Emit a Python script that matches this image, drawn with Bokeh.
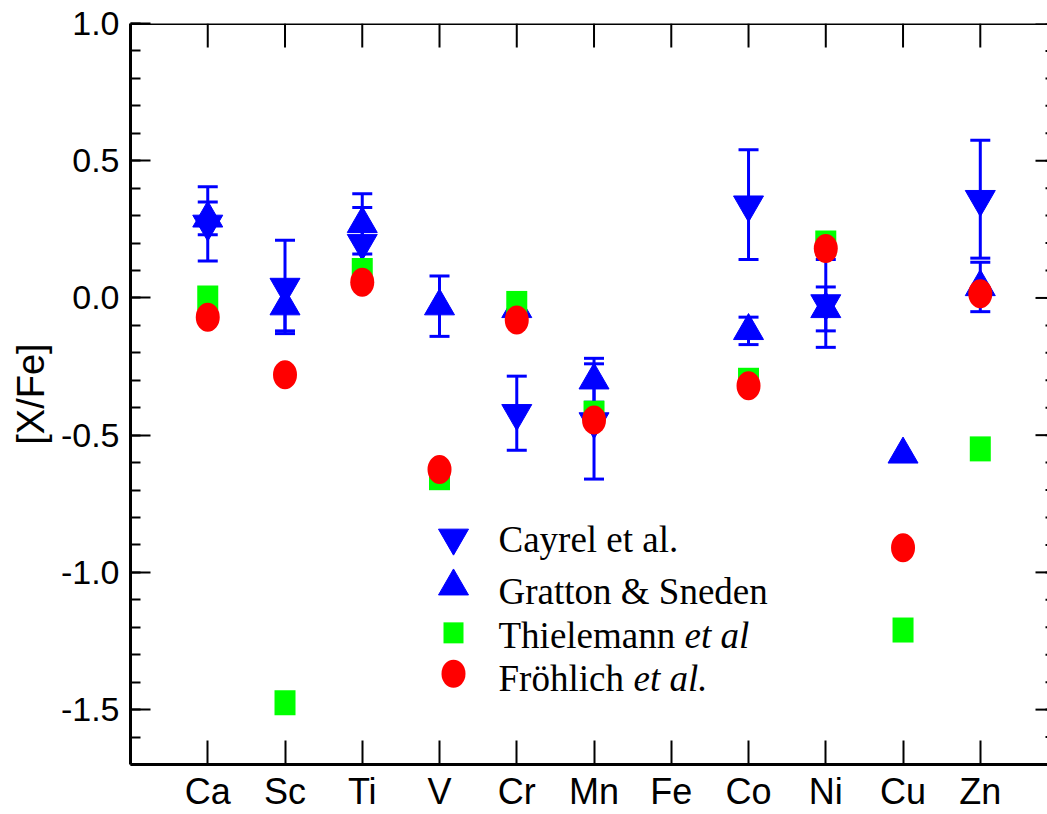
import numpy as np
from bokeh.plotting import figure
from bokeh.models import (Range1d, FixedTicker, ColumnDataSource, Span,
                          Whisker, TeeHead, Label, PrintfTickFormatter)
from bokeh.embed import file_html
from bokeh.resources import INLINE

# ---- data ---------------------------------------------------------------
elements = ["Ca", "Sc", "Ti", "V", "Cr", "Mn", "Fe", "Co", "Ni", "Cu", "Zn"]

cayrel_el = ["Ca", "Sc", "Ti", "Cr", "Mn", "Co", "Ni", "Zn"]
cayrel_val = [0.27, 0.04, 0.20, -0.42, -0.45, 0.34, -0.02, 0.36]
cayrel_err = [0.135, 0.17, 0.13, 0.135, 0.21, 0.20, 0.16, 0.215]

gratton_el = ["Ca", "Sc", "Ti", "V", "Cr", "Mn", "Co", "Ni", "Cu", "Zn"]
gratton_val = [0.29, -0.03, 0.27, -0.03, -0.04, -0.30, -0.12, -0.04, -0.57, 0.04]
gratton_err = [0.06, 0.09, 0.11, 0.11, 0.0, 0.08, 0.05, 0.08, 0.0, 0.09]

thiel_el = ["Ca", "Sc", "Ti", "V", "Cr", "Mn", "Co", "Ni", "Cu", "Zn"]
thiel_val = [0.0, -1.475, 0.10, -0.655, -0.02, -0.42, -0.30, 0.20, -1.21, -0.55]

froh_el = ["Ca", "Sc", "Ti", "V", "Cr", "Mn", "Co", "Ni", "Cu", "Zn"]
froh_val = [-0.07, -0.28, 0.057, -0.625, -0.08, -0.445, -0.32, 0.18, -0.91, 0.015]

y_major = [-1.5, -1.0, -0.5, 0.0, 0.5, 1.0]
y_minor = [round(v, 1) for v in np.arange(-1.7, 1.001, 0.1)]

BLUE, GREEN, RED = "#0000ff", "#00ff00", "#ff0000"
SANS = "Liberation Sans"
SERIF = "Liberation Serif"

pos = {name: i + 1 for i, name in enumerate(elements)}

# ---- figure ---------------------------------------------------------------
X0, X1 = 0.0, 11.87
Y0, Y1 = -1.7, 1.0
FRAME_W, FRAME_H = 917.0, 743.0
PX_X = (X1 - X0) / FRAME_W      # data units per screen pixel
PX_Y = (Y1 - Y0) / FRAME_H

p = figure(width=1047, height=814, x_range=Range1d(X0, X1), y_range=Range1d(Y0, Y1),
           output_backend="svg", toolbar_location=None,
           min_border_left=130, min_border_right=0, min_border_top=23, min_border_bottom=48,
           outline_line_color=None, background_fill_color="white")
p.grid.visible = False

x_ticker = FixedTicker(ticks=[pos[e] for e in elements], minor_ticks=[])
y_ticker = FixedTicker(ticks=y_major, minor_ticks=y_minor)

xa = p.xaxis[0]
xa.ticker = x_ticker
xa.major_label_overrides = {pos[e]: e for e in elements}
xa.major_tick_in, xa.major_tick_out = 24, 0
xa.major_tick_line_width = 2
xa.axis_line_width = 3
xa.major_label_text_font = SANS
xa.major_label_text_font_size = "36px"
xa.major_label_text_color = "black"
xa.major_label_standoff = 6

ya = p.yaxis[0]
ya.ticker = y_ticker
ya.formatter = PrintfTickFormatter(format="%.1f")
ya.major_tick_in, ya.major_tick_out = 20, 0
ya.minor_tick_in, ya.minor_tick_out = 10, 0
ya.major_tick_line_width = 2
ya.minor_tick_line_width = 2
ya.axis_line_width = 3
ya.major_label_text_font = SANS
ya.major_label_text_font_size = "34px"
ya.major_label_text_color = "black"
ya.major_label_standoff = 11
ya.axis_label = "[X/Fe]"
ya.axis_label_text_font = SANS
ya.axis_label_text_font_size = "38px"
ya.axis_label_text_font_style = "normal"
ya.axis_label_text_color = "black"
ya.axis_label_standoff = 6

# top frame edge with inward ticks at each element
p.add_layout(Span(location=Y1, dimension="width", line_color="black", line_width=3))
tx_ = [pos[e] for e in elements]
p.segment(x0=tx_, y0=[Y1] * len(tx_), x1=tx_, y1=[Y1 - 24 * PX_Y] * len(tx_),
          line_color="black", line_width=2)

# right-hand ticks reaching in from the window edge
p.segment(x0=[X1] * len(y_major), y0=y_major, x1=[X1 - 12 * PX_X] * len(y_major),
          y1=y_major, line_color="black", line_width=2)
p.segment(x0=[X1] * len(y_minor), y0=y_minor, x1=[X1 - 2 * PX_X] * len(y_minor),
          y1=y_minor, line_color="black", line_width=2)

# ---- error bars -------------------------------------------------------------
def bars(names, vals, errs):
    keep = [i for i, e in enumerate(errs) if e > 0]
    return ColumnDataSource(dict(
        x=[pos[names[i]] for i in keep],
        upper=[vals[i] + errs[i] for i in keep],
        lower=[vals[i] - errs[i] for i in keep]))

for src in (bars(cayrel_el, cayrel_val, cayrel_err),
            bars(gratton_el, gratton_val, gratton_err)):
    w = Whisker(base="x", upper="upper", lower="lower", source=src, dimension="height",
                line_color=BLUE, line_width=3,
                upper_head=TeeHead(size=20, line_color=BLUE, line_width=3),
                lower_head=TeeHead(size=20, line_color=BLUE, line_width=3))
    p.add_layout(w)

# ---- markers --------------------------------------------------------------
p.scatter([pos[e] for e in cayrel_el], cayrel_val, marker="inverted_triangle",
          size=30, fill_color=BLUE, line_color=BLUE, line_width=1)
p.scatter([pos[e] for e in gratton_el], gratton_val, marker="triangle",
          size=30, fill_color=BLUE, line_color=BLUE, line_width=1)
p.rect([pos[e] for e in thiel_el], thiel_val, width=21, height=25,
       width_units="screen", height_units="screen",
       fill_color=GREEN, line_color=None)
p.ellipse([pos[e] for e in froh_el], froh_val, width=24, height=29,
          width_units="screen", height_units="screen",
          fill_color=RED, line_color=None)

# ---- legend (built by hand so parts of a label can be italic) -------------
def px_x(px):
    return X0 + (px - 130) * PX_X

def px_y(py):
    return Y1 - (py - 23) * PX_Y

mx = px_x(453)
tx = px_x(498)
p.scatter([mx], [px_y(538.7)], marker="inverted_triangle", size=30,
          fill_color=BLUE, line_color=BLUE)
p.scatter([mx], [px_y(587.3)], marker="triangle", size=30,
          fill_color=BLUE, line_color=BLUE)
p.rect([mx], [px_y(634)], width=20, height=21, width_units="screen",
       height_units="screen", fill_color=GREEN, line_color=None)
p.ellipse([mx], [px_y(675)], width=24, height=28, width_units="screen",
          height_units="screen", fill_color=RED, line_color=None)

legend_rows = [
    (540, [("Cayrel et al.", "normal", 0)]),
    (593, [("Gratton & Sneden", "normal", 0)]),
    (637, [("Thielemann", "normal", 0), ("et al", "italic", 186)]),
    (680, [("Fröhlich", "normal", 0), ("et al.", "italic", 135)]),
]
for base, parts in legend_rows:
    for txt, style, off in parts:
        p.add_layout(Label(x=tx, y=px_y(base), text=txt, x_offset=off,
                           text_font=SERIF, text_font_size="37px",
                           text_font_style=style, text_color="black",
                           text_baseline="alphabetic", text_align="left"))

open("out.html", "w").write(file_html(p, INLINE))
